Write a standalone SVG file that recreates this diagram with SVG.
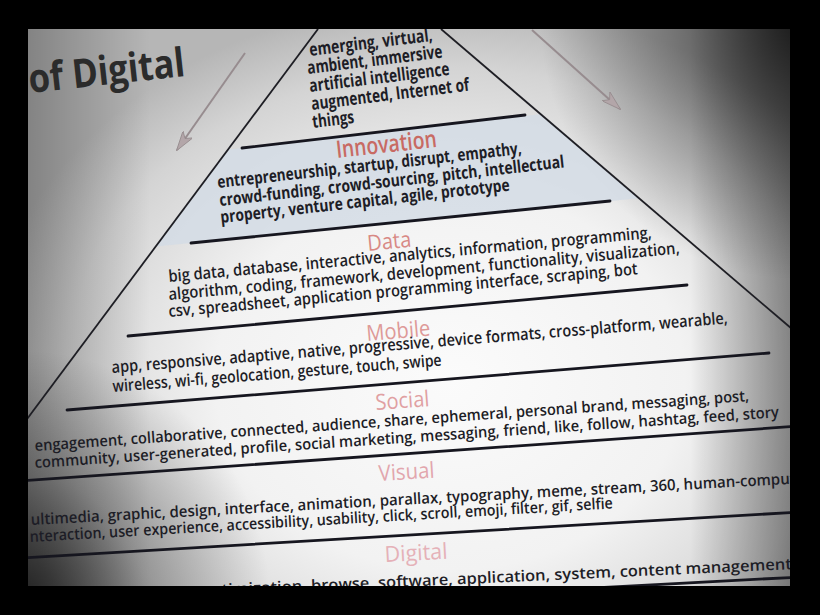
<svg xmlns="http://www.w3.org/2000/svg" width="820" height="615" viewBox="0 0 820 615">
<defs>
  <radialGradient id="vig" gradientUnits="userSpaceOnUse" cx="0" cy="0" r="1" gradientTransform="translate(450 380) scale(470 380)">
    <stop offset="0" stop-color="#fbfbfb"/>
    <stop offset="0.5" stop-color="#f2f2f2"/>
    <stop offset="0.82" stop-color="#d4d4d4"/>
    <stop offset="1" stop-color="#b6b6b6"/>
  </radialGradient>
  <radialGradient id="darkTR" gradientUnits="userSpaceOnUse" cx="800" cy="20" r="260">
    <stop offset="0" stop-color="#000" stop-opacity="0.75"/>
    <stop offset="0.5" stop-color="#000" stop-opacity="0.35"/>
    <stop offset="1" stop-color="#000" stop-opacity="0"/>
  </radialGradient>
  <radialGradient id="darkBL" gradientUnits="userSpaceOnUse" cx="20" cy="600" r="250">
    <stop offset="0" stop-color="#000" stop-opacity="0.75"/>
    <stop offset="0.5" stop-color="#000" stop-opacity="0.3"/>
    <stop offset="1" stop-color="#000" stop-opacity="0"/>
  </radialGradient>
  <linearGradient id="darkR" gradientUnits="userSpaceOnUse" x1="690" y1="0" x2="790" y2="0">
    <stop offset="0" stop-color="#000" stop-opacity="0"/>
    <stop offset="1" stop-color="#000" stop-opacity="0.4"/>
  </linearGradient>
  <linearGradient id="darkL" gradientUnits="userSpaceOnUse" x1="28" y1="0" x2="150" y2="0">
    <stop offset="0" stop-color="#000" stop-opacity="0.28"/>
    <stop offset="1" stop-color="#000" stop-opacity="0"/>
  </linearGradient>
  <clipPath id="photo"><rect x="28" y="29" width="762" height="557"/></clipPath>
  <marker id="ah" viewBox="0 0 20 12" refX="19" refY="6" markerWidth="20" markerHeight="12" markerUnits="userSpaceOnUse" orient="auto">
    <path d="M0,0 L20,6 L0,12 L5,6 Z" fill="#b3a6a9" stroke="#958a8d" stroke-width="0.8"/>
  </marker>
  <style>
    .t{font-family:"Open Sans","Noto Sans","DejaVu Sans",sans-serif;font-weight:600;fill:#1d1d26}
    .top{font-size:18px;font-weight:700}
    .inn{font-size:17px;font-weight:700}
    .b{font-size:16.5px}
    .s{font-size:15.5px}
    .h{font-family:"Open Sans","Noto Sans","DejaVu Sans",sans-serif;font-weight:400;font-size:22px}
    .div{stroke:#16161f;stroke-width:2.8;fill:none;stroke-linecap:round}
    .edge{stroke:#1e1e24;stroke-width:1.8;fill:none}
    .arr{stroke:#978c8f;stroke-width:2;fill:none}
  </style>
</defs>
<rect x="0" y="0" width="820" height="615" fill="#000"/>
<g clip-path="url(#photo)">
  <rect x="28" y="29" width="762" height="557" fill="url(#vig)"/>
  <rect x="28" y="29" width="762" height="557" fill="url(#darkL)"/>
  <rect x="28" y="29" width="762" height="557" fill="url(#darkR)"/>
  <rect x="28" y="29" width="762" height="557" fill="url(#darkTR)"/>
  <rect x="28" y="29" width="762" height="557" fill="url(#darkBL)"/>
  <!-- innovation band fill -->
  <polygon points="228.4,149.5 541.5,114.1 638.6,198.2 155.6,246.5" fill="#d3dce5" opacity="0.85"/>
  <!-- pyramid edges -->
  <line class="edge" x1="318" y1="29" x2="27" y2="419"/>
  <line class="edge" x1="441" y1="29" x2="792" y2="329"/>
  <!-- dividers -->
  <line class="div" x1="242" y1="148" x2="525" y2="115"/>
  <line class="div" x1="191" y1="243" x2="610" y2="201"/>
  <line class="div" x1="128" y1="336" x2="687" y2="285"/>
  <line class="div" x1="67" y1="410" x2="769" y2="353"/>
  <line class="div" x1="20" y1="481" x2="800" y2="426"/>
  <line class="div" x1="20" y1="558" x2="800" y2="512"/>
  <line class="div" x1="480" y1="594" x2="800" y2="577"/>

  <text x="30" y="93" textLength="157" lengthAdjust="spacingAndGlyphs" transform="rotate(-6.3 30 93)" style="font-family:'Open Sans','Noto Sans',sans-serif;font-size:40px;font-weight:700;fill:#2b2b2b">of Digital</text>

  <g id="connectors">
    <line class="arr" x1="245" y1="53" x2="177" y2="150" marker-end="url(#ah)"/>
    <line class="arr" x1="532" y1="30" x2="620" y2="109" marker-end="url(#ah)"/>
  </g>

  <g id="tier-top">
    <text class="t top" x="310" y="56" textLength="124" lengthAdjust="spacingAndGlyphs" transform="rotate(-7 310 56)">emerging,  virtual,</text>
    <text class="t top" x="308" y="74" textLength="136" lengthAdjust="spacingAndGlyphs" transform="rotate(-7 308 74)">ambient, immersive</text>
    <text class="t top" x="310" y="92" textLength="141" lengthAdjust="spacingAndGlyphs" transform="rotate(-7 310 92)">artificial intelligence</text>
    <text class="t top" x="312" y="110" textLength="159" lengthAdjust="spacingAndGlyphs" transform="rotate(-7 312 110)">augmented, Internet of</text>
    <text class="t top" x="313" y="128" textLength="42" lengthAdjust="spacingAndGlyphs" transform="rotate(-7 313 128)">things</text>
  </g>

  <g id="tier-innovation">
    <text class="h" x="337" y="158" textLength="101" lengthAdjust="spacingAndGlyphs" transform="rotate(-6.3 337 158)" style="font-size:24px;font-weight:600;fill:#c86a63">Innovation</text>
    <text class="t inn" x="218" y="188" textLength="306" lengthAdjust="spacingAndGlyphs" transform="rotate(-6.4 218 188)">entrepreneurship, startup, disrupt, empathy,</text>
    <text class="t inn" x="220" y="206" textLength="347" lengthAdjust="spacingAndGlyphs" transform="rotate(-6.4 220 206)">crowd-funding, crowd-sourcing, pitch, intellectual</text>
    <text class="t inn" x="221" y="223" textLength="291" lengthAdjust="spacingAndGlyphs" transform="rotate(-6.4 221 223)">property, venture capital, agile, prototype</text>
  </g>

  <g id="tier-data">
    <text class="h" x="368" y="251" textLength="44" lengthAdjust="spacingAndGlyphs" transform="rotate(-5.5 368 251)" style="fill:#d88985">Data</text>
    <text class="t b" x="169" y="282" textLength="485" lengthAdjust="spacingAndGlyphs" transform="rotate(-5.2 169 282)">big data, database, interactive, analytics, information, programming,</text>
    <text class="t b" x="169" y="300" textLength="513" lengthAdjust="spacingAndGlyphs" transform="rotate(-5.2 169 300)">algorithm, coding, framework, development, functionality, visualization,</text>
    <text class="t b" x="169" y="317" textLength="471" lengthAdjust="spacingAndGlyphs" transform="rotate(-5.2 169 317)">csv, spreadsheet, application programming interface, scraping, bot</text>
  </g>

  <g id="tier-mobile">
    <text class="h" x="367" y="341" textLength="64" lengthAdjust="spacingAndGlyphs" transform="rotate(-4.8 367 341)" style="fill:#de9a98">Mobile</text>
    <text class="t b" x="112" y="373" textLength="618" lengthAdjust="spacingAndGlyphs" transform="rotate(-4.6 112 373)">app, responsive, adaptive, native, progressive, device formats, cross-platform, wearable,</text>
    <text class="t b" x="113" y="392" textLength="330" lengthAdjust="spacingAndGlyphs" transform="rotate(-4.6 113 392)">wireless, wi-fi, geolocation, gesture, touch, swipe</text>
  </g>

  <g id="tier-social">
    <text class="h" x="376" y="410" textLength="54" lengthAdjust="spacingAndGlyphs" transform="rotate(-4.2 376 410)" style="fill:#e0a0a2">Social</text>
    <text class="t s" x="35" y="451" textLength="716" lengthAdjust="spacingAndGlyphs" transform="rotate(-4 35 451)">engagement, collaborative, connected, audience, share, ephemeral, personal brand, messaging, post,</text>
    <text class="t s" x="35" y="468" textLength="746" lengthAdjust="spacingAndGlyphs" transform="rotate(-3.9 35 468)">community, user-generated, profile, social marketing, messaging, friend, like, follow, hashtag, feed, story</text>
  </g>

  <g id="tier-visual">
    <text class="h" x="379" y="481" textLength="56" lengthAdjust="spacingAndGlyphs" transform="rotate(-3.5 379 481)" style="fill:#e2a6ad">Visual</text>
    <text class="t s" x="31" y="525" textLength="766" lengthAdjust="spacingAndGlyphs" transform="rotate(-3.1 31 525)">ultimedia, graphic, design, interface, animation, parallax, typography, meme, stream, 360, human-comput</text>
    <text class="t s" x="30" y="542" textLength="584" lengthAdjust="spacingAndGlyphs" transform="rotate(-3.3 30 542)">nteraction, user experience, accessibility, usability, click, scroll, emoji, filter, gif, selfie</text>
  </g>

  <g id="tier-digital">
    <text class="h" x="385" y="562" textLength="63" lengthAdjust="spacingAndGlyphs" transform="rotate(-3 385 562)" style="fill:#e5b1b8">Digital</text>
    <text class="t s" x="222" y="595" textLength="575" lengthAdjust="spacingAndGlyphs" transform="rotate(-2.6 222 595)">timization, browse, software, application, system, content management,</text>
  </g>
</g>
</svg>
